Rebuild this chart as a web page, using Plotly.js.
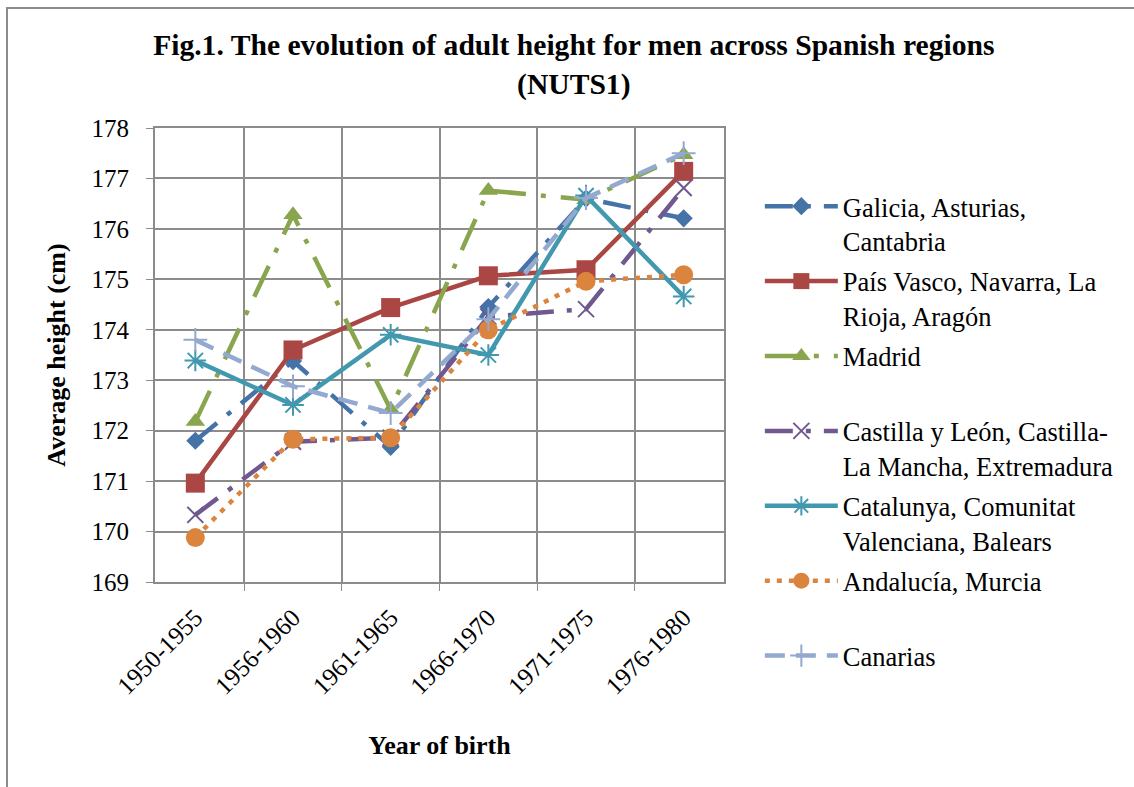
<!DOCTYPE html>
<html>
<head>
<meta charset="utf-8">
<script src="https://cdn.plot.ly/plotly-3.0.1.min.js"></script>
<style>
html,body{margin:0;padding:0;background:#fff;}
#chart{position:absolute;left:0;top:0;width:1134px;height:787px;}
#frame{position:absolute;left:6px;top:7px;width:1200px;height:800px;border-left:2px solid #8c8c8c;border-top:2px solid #8c8c8c;pointer-events:none;}
</style>
</head>
<body>
<div id="chart"></div>
<div id="frame"></div>
<script>
const categories = ["1950-1955","1956-1960","1961-1965","1966-1970","1971-1975","1976-1980"];
const galicia   = [171.80, 173.38, 171.68, 174.45, 176.60, 176.21];
const paisVasco = [170.96, 173.60, 174.44, 175.07, 175.19, 177.14];
const madrid    = [172.18, 176.28, 172.42, 176.76, 176.58, 177.47];
const castilla  = [170.33, 171.78, 171.86, 174.26, 174.41, 176.81];
const catalunya = [173.39, 172.51, 173.90, 173.50, 176.66, 174.66];
const andalucia = [169.88, 171.83, 171.86, 174.00, 174.96, 175.09];
const canarias  = [173.80, 172.88, 172.35, 174.21, 176.61, 177.50];
const yTicks = [169,170,171,172,173,174,175,176,177,178];

const lw = 4.5;
function tr(name, y, color, dash, symbol, size, open){
  return {
    type:'scatter', mode:'lines+markers', x:categories, y:y, name:name,
    legendgroup:name,
    line:{color:color, width:lw, dash:dash},
    marker:{symbol:symbol, size:size, color:color,
            line:{color:color, width: open ? 2 : 0}}
  };
}
const traces = [
  tr("Galicia, Asturias,<br>Cantabria", galicia, "#4572A7", "28px,13px,5px,13px", "diamond", 14, false),
  tr("País Vasco, Navarra, La<br>Rioja, Aragón", paisVasco, "#AA4643", "solid", "square", 19, false),
  tr("Madrid<br> ", madrid, "#89A54E", "34px,15px,5px,15px", "triangle-up", 17, false),
  tr("Castilla y León, Castilla-<br>La Mancha, Extremadura", castilla, "#71588F", "28px,13px,5px,13px", "x-thin-open", 16, true),
  tr("Catalunya, Comunitat<br>Valenciana, Balears", catalunya, "#4198AF", "solid", "asterisk-open", 18, true),
  tr("Andalucía, Murcia<br> ", andalucia, "#DB843D", "5px,7px", "circle", 19, false),
  tr("Canarias<br> ", canarias, "#93A9CF", "20px,11px", "cross-thin-open", 17, true)
];

const serif = "Liberation Serif";
const grid = "#8c8c8c";
const layout = {
  width:1134, height:787,
  margin:{l:155, r:410, t:128, b:205},
  paper_bgcolor:'#fff', plot_bgcolor:'#fff',
  font:{family:serif, color:'#000', size:25},
  title:{text:"<b>Fig.1. The evolution of adult height for men across Spanish regions<br>(NUTS1)</b>",
         font:{family:serif, size:29.6, color:'#000'},
         x:0.506, xanchor:'center', xref:'container',
         y:0.93, yanchor:'top', yref:'container'},
  xaxis:{type:'category', tickson:'boundaries', ticks:'outside', ticklen:7, tickcolor:grid,
         tickangle:-45, tickfont:{size:25, family:serif}, ticklabelstandoff:9,
         showgrid:true, gridcolor:grid, gridwidth:2,
         showline:true, linecolor:grid, linewidth:2, mirror:true,
         title:{text:"<b>Year of birth</b>", font:{size:26, family:serif}, standoff:37},
         automargin:false, fixedrange:true},
  yaxis:{range:[169,178], tickvals:yTicks, ticks:'outside', ticklen:7, tickcolor:grid,
         tickfont:{size:25, family:serif}, ticklabelstandoff:12,
         showgrid:true, gridcolor:grid, gridwidth:2, zeroline:false,
         showline:true, linecolor:grid, linewidth:2, mirror:true,
         title:{text:"<b>Average height (cm)</b>", font:{size:26, family:serif}, standoff:18},
         automargin:false, fixedrange:true},
  legend:{x:1.063, xanchor:'left', y:0.88, yanchor:'top', valign:'top', maxheight:700,
          font:{size:26.5, family:serif}, itemwidth:73, tracegroupgap:3,
          bgcolor:'rgba(0,0,0,0)', borderwidth:0},
  showlegend:true
};
Plotly.newPlot('chart', traces, layout, {displayModeBar:false, staticPlot:true});
</script>
</body>
</html>
